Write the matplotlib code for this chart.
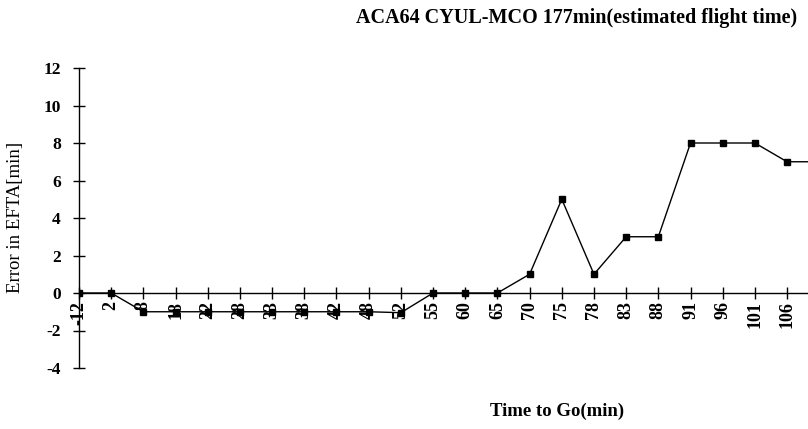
import numpy as np
import matplotlib
matplotlib.use("Agg")
import matplotlib.pyplot as plt

# 数据，最后一点在图右边被截掉
time_to_go = ["-12", "2", "8", "18", "22", "28", "33", "38", "42", "48", "52",
              "55", "60", "65", "70", "75", "78", "83", "88", "91", "96", "101",
              "106", "111"]
efta_error = [0, 0, -1, -1, -1, -1, -1, -1, -1, -1, -1.05,
              0, 0, 0, 1, 5, 1, 3, 3, 8, 8, 8,
              7, 7]
y_ticks = [-4, -2, 0, 2, 4, 6, 8, 10, 12]

plt.rcParams["font.family"] = ["Liberation Serif", "DejaVu Serif"]

fig = plt.figure(figsize=(8.08, 4.29), dpi=100)
ax = fig.add_axes([79 / 808, 1 - 368 / 429, 1 - 79 / 808, 300 / 429])

x = np.arange(len(time_to_go))
ax.plot(x, efta_error, color="black", linewidth=1.0, marker="s",
        markersize=4.5, markerfacecolor="black")

# 坐标轴：x 轴放在 y=0 处（要在设刻度标签之前，否则会被重置）
for side in ["top", "right"]:
    ax.spines[side].set_visible(False)
ax.spines["bottom"].set_position(("data", 0))
ax.spines["bottom"].set_linewidth(1.0)
ax.spines["left"].set_linewidth(1.0)

# 刻度只放在看得见的类别上（set_xticks 会扩展范围，所以先设刻度再设范围）
shown = len(time_to_go) - 1
ax.set_xticks(x[:shown])
ax.set_xticklabels(time_to_go[:shown], rotation=90, fontsize=13, fontweight="bold")
ax.set_yticks(y_ticks)
ax.set_yticklabels([str(v) for v in y_ticks], fontsize=12.5, fontweight="bold")
ax.set_xlim(0, 22.65)
ax.set_ylim(-4, 12)

ax.tick_params(axis="both", direction="inout", length=8, width=1.0, color="black")
ax.tick_params(axis="x", pad=2)
ax.tick_params(axis="y", pad=9)

fig.text(0.714, 0.958, "ACA64 CYUL-MCO 177min(estimated flight time)",
         ha="center", va="center", fontsize=14.5, fontweight="bold")
fig.text(0.690, 0.040, "Time to Go(min)", ha="center", va="center",
         fontsize=13.5, fontweight="bold")
fig.text(0.019, 0.492, "Error in EFTA[min]", rotation=90, ha="center",
         va="center", fontsize=13.5)

fig.savefig("out.png", dpi=100, facecolor="white")
